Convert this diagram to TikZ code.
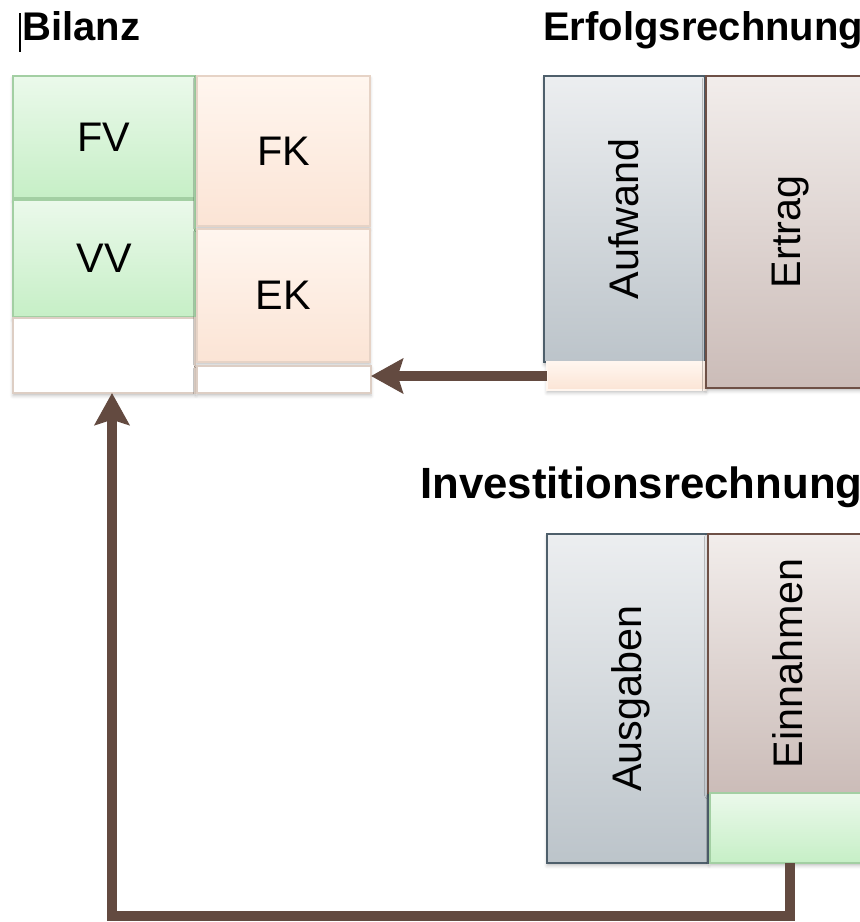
\documentclass[tikz,border=0pt]{standalone}
\usepackage{fontspec}
\setmainfont{Liberation Sans}
\usetikzlibrary{arrows.meta,shadows.blur}
\definecolor{gruenoben}{HTML}{EBF9EB}
\definecolor{gruenunten}{HTML}{C6EFC6}
\definecolor{gruenrand}{HTML}{A3CFA3}
\definecolor{pfirsichoben}{HTML}{FFF6EF}
\definecolor{pfirsichunten}{HTML}{FBE4D5}
\definecolor{pfirsichrand}{HTML}{E6D3C6}
\definecolor{grauoben}{HTML}{ECEEF0}
\definecolor{grauunten}{HTML}{BCC4CA}
\definecolor{graurand}{HTML}{4E5F6B}
\definecolor{braunoben}{HTML}{F2EDEB}
\definecolor{braununten}{HTML}{CBBCB8}
\definecolor{braunrand}{HTML}{6E5046}
\definecolor{leerrand}{HTML}{DDCEC4}
\definecolor{pfeil}{HTML}{634A40}

\begin{document}
\begin{tikzpicture}[x=0.75pt, y=-0.75pt, >={Stealth[length=24pt, width=26pt, inset=4pt]},
    kasten/.style={draw, line width=0.8pt, inner sep=0pt, outer sep=0pt,
        font=\fontsize{31}{36}\selectfont,
        blur shadow={shadow xshift=0pt, shadow yshift=-2pt, shadow blur radius=2.5pt, shadow opacity=25}},
    aktiv/.style={kasten, draw=gruenrand, top color=gruenoben, bottom color=gruenunten},
    passiv/.style={kasten, draw=pfirsichrand, top color=pfirsichoben, bottom color=pfirsichunten},
    leer/.style={kasten, draw=leerrand, fill=white},
    aufwandbox/.style={kasten, draw=graurand, line width=1.2pt, top color=grauoben, bottom color=grauunten},
    ertragbox/.style={kasten, draw=braunrand, line width=1.2pt, top color=braunoben, bottom color=braununten},
    dreh/.style={rotate=90, inner sep=0pt, text height=0.72em, text depth=0pt, font=\fontsize{31}{36}\selectfont},
    titel/.style={anchor=base west, inner sep=0pt, font=\bfseries\fontsize{30}{36}\selectfont},
    fluss/.style={->, line width=7.5pt, draw=pfeil, line join=miter}]
    \useasboundingbox (0,0) rectangle (860,922);
    \clip (0,0) rectangle (860,922);

    % Titel
    \node[titel] (tbilanz) at (22,40) {Bilanz};
    \node[titel] (terfolg) at (543,40) {Erfolgsrechnung};
    \node[titel, font=\bfseries\fontsize{32.8}{38}\selectfont] (tinvest) at (420,498) {Investitionsrechnung};
    \draw[line width=0.8pt] (20,13) -- (20,52);

    % Bilanz
    \node[aktiv, minimum width=136.5pt, minimum height=91.5pt] (fv) at (104,137) {FV};
    \node[aktiv, minimum width=136.5pt, minimum height=87.75pt] (vv) at (104,258.5) {VV};
    \node[leer, minimum width=136.5pt, minimum height=56.25pt] (liq) at (104,355.5) {};
    \node[passiv, minimum width=129.75pt, minimum height=112.5pt] (fk) at (283.5,151) {FK};
    \node[passiv, minimum width=129.75pt, minimum height=99.75pt] (ek) at (283.5,295.5) {EK};
    \node[leer, minimum width=130.5pt, minimum height=20.25pt] (ekrest) at (284,379.5) {};

    % Erfolgsrechnung
    \node[aufwandbox, minimum width=120.75pt, minimum height=214.5pt] (aufwand) at (624.5,219) {};
    \node[passiv, draw=pfirsichoben, minimum width=119.25pt, minimum height=21pt] (gewinn) at (626.5,376) {};
    \node[ertragbox, minimum width=120.75pt, minimum height=234pt] (ertrag) at (786.5,232) {};
    \node[dreh] (taufwand) at ([xshift=7pt]aufwand.center) {Aufwand};
    \node[dreh] (tertrag) at ([xshift=7pt]ertrag.center) {Ertrag};

    % Investitionsrechnung
    \node[aufwandbox, minimum width=120.75pt, minimum height=246.75pt] (ausgaben) at (627.5,698.5) {};
    \node[ertragbox, minimum width=120.75pt, minimum height=194.25pt] (einnahmen) at (788.5,663.5) {};
    \node[aktiv, minimum width=119.25pt, minimum height=52.5pt] (cf) at (789.5,828) {};
    \node[dreh] (tausgaben) at ([xshift=7pt]ausgaben.center) {Ausgaben};
    \node[dreh] (teinnahmen) at ([xshift=7pt]einnahmen.center) {Einnahmen};

    % Pfeile
    \draw[fluss] (gewinn.west) -- (gewinn.west -| ekrest.east);
    \draw[fluss] (cf.south) -- ++(0,53) -| ([xshift=6pt]liq.south);
\end{tikzpicture}
\end{document}
